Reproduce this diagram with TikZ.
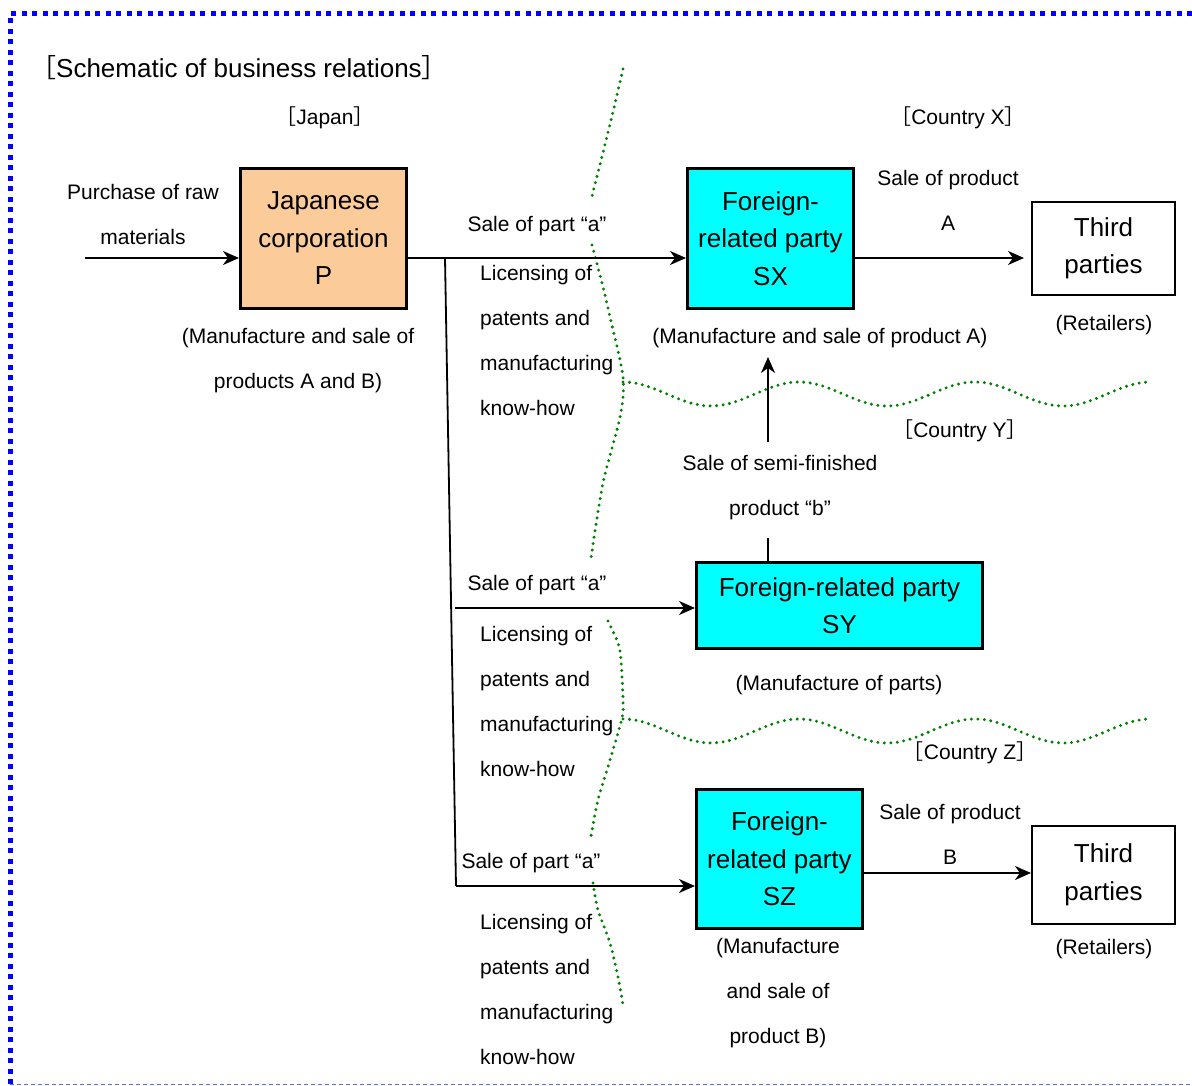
\documentclass[tikz,border=0pt]{standalone}
\usepackage{fontspec}
\setmainfont{Liberation Sans}
\newfontfamily\cjk{Noto Sans CJK JP}
\usetikzlibrary{arrows.meta}
\definecolor{peach}{RGB}{251,203,154}
\definecolor{aqua}{RGB}{0,255,255}
\definecolor{seagreen}{RGB}{0,128,0}
\newcommand{\jlb}{{\cjk ［}}
\newcommand{\jrb}{{\cjk ］}}

\begin{document}
\begin{tikzpicture}[x=1pt, y=-1pt,
    txt/.style={font=\fontsize{21}{45}\selectfont, align=center, inner sep=0pt},
    bigtxt/.style={font=\fontsize{26}{37.5}\selectfont, align=center, inner sep=0pt},
    party/.style={draw, line width=3pt, fill=aqua, bigtxt},
    third/.style={draw, line width=2pt, fill=white, bigtxt},
    arr/.style={-{Stealth[length=16pt,width=14pt,inset=5pt]}, line width=1.8pt},
    edgeline/.style={blue, line width=5pt, dash pattern=on 5pt off 5.5pt},
    sea/.style={seagreen, line width=3.3pt, line cap=round, dash pattern=on 0pt off 6.5pt}]
  \useasboundingbox (0,0) rectangle (1192,1086);

  % outer frame
  \draw[edgeline] (1192,14) -- (10,14) -- (10,1084);
  \draw[blue!60, line width=1pt, dash pattern=on 4pt off 3pt] (10,1084) -- (1192,1084);

  % borders between countries
  \draw[sea] (623,69) .. controls (610,125) .. (591,200);
  \draw[sea] plot[smooth] coordinates {(592,245) (602,283) (610,317) (623,377) (620,417) (603,483) (591,558)};
  \draw[sea] plot[smooth] coordinates {(608,621) (618,643) (621,660) (623,700) (622,718) (610,760) (598,800) (591,836)};
  \draw[sea] plot[smooth] coordinates {(593,883) (598,910) (610,943) (618,977) (623,1005)};
  \draw[sea] plot[domain=0:527, samples=120] ({623+\x}, {394-12*cos(\x/176*360)});
  \draw[sea] plot[domain=0:527, samples=120] ({623+\x}, {731-12*cos(\x/176*360)});

  % boxes
  \node (p) [draw, line width=3pt, fill=peach, bigtxt, minimum width=166, minimum height=140]
    at (323.5,238.5) {Japanese\\corporation\\P};
  \node (sx) [party, minimum width=166, minimum height=140] at (770.5,238.5) {Foreign-\\related party\\SX};
  \node (sy) [party, minimum width=286, minimum height=86] at (839.5,605.5) {Foreign-related party\\SY};
  \node (sz) [party, minimum width=166, minimum height=139] at (779.5,859) {Foreign-\\related party\\SZ};
  \node (t1) [third, minimum width=143, minimum height=93] at (1103.5,248.5) {Third\\parties};
  \node (t2) [third, minimum width=143, minimum height=98] at (1103.5,875) {Third\\parties};

  % labels
  \node (title) [bigtxt] at (239,68) {\jlb Schematic of business relations\jrb};
  \node (japan) [txt] at (325,118) {\jlb Japan\jrb};
  \node (cx) [txt] at (958,118) {\jlb Country X\jrb};
  \node (cy) [txt] at (960,431) {\jlb Country Y\jrb};
  \node (cz) [txt] at (970,753) {\jlb Country Z\jrb};
  \node (raw) [txt] at (143,214.5) {Purchase of raw\\materials};
  \node (pcap) [txt] at (298,360.5) {(Manufacture and sale of\\products A and B)};
  \node (sale1) [txt] at (537,226) {Sale of part “a”};
  \node (lic1) [txt, align=left, anchor=west] at (480,340.5) {Licensing of\\patents and\\manufacturing\\know-how};
  \node (sxcap) [txt] at (820,338) {(Manufacture and sale of product A)};
  \node (proda) [txt] at (948,200.5) {Sale of product\\A};
  \node (ret1) [txt] at (1104,325) {(Retailers)};
  \node (semi) [txt] at (780,487.5) {Sale of semi-finished\\product “b”};
  \node (sale2) [txt] at (537,585) {Sale of part “a”};
  \node (lic2) [txt, align=left, anchor=west] at (480,701) {Licensing of\\patents and\\manufacturing\\know-how};
  \node (sycap) [txt] at (839,685) {(Manufacture of parts)};
  \node (sale3) [txt] at (531,863) {Sale of part “a”};
  \node (lic3) [txt, align=left, anchor=west] at (480,989) {Licensing of\\patents and\\manufacturing\\know-how};
  \node (szcap) [txt] at (778,993.5) {(Manufacture\\and sale of\\product B)};
  \node (prodb) [txt] at (950,834.5) {Sale of product\\B};
  \node (ret2) [txt] at (1104,949) {(Retailers)};

  % flows
  \coordinate (in) at (85,258);
  \coordinate (m) at (445,258);
  \coordinate (y) at (455,608);
  \coordinate (z) at (456,886);
  \coordinate (zb) at (864,873);
  \coordinate (q) at (768,538);
  \coordinate (r) at (768,442);
  \coordinate (s) at (768,357);

  \draw[arr] (in) -- (in -| p.west);
  \draw[arr] (m -| p.east) -- (m -| sx.west);
  \draw[line width=1.8pt] (m) -- (z);
  \draw[arr] (y) -- (y -| sy.west);
  \draw[arr] (z) -- (z -| sz.west);
  \draw[arr, shorten >=7pt] (m -| sx.east) -- (m -| t1.west);
  \draw[arr] (zb -| sz.east) -- (zb -| t2.west);
  \draw[line width=1.8pt] (q |- sy.north) -- (q);
  \draw[arr] (r) -- (s);
\end{tikzpicture}
\end{document}
